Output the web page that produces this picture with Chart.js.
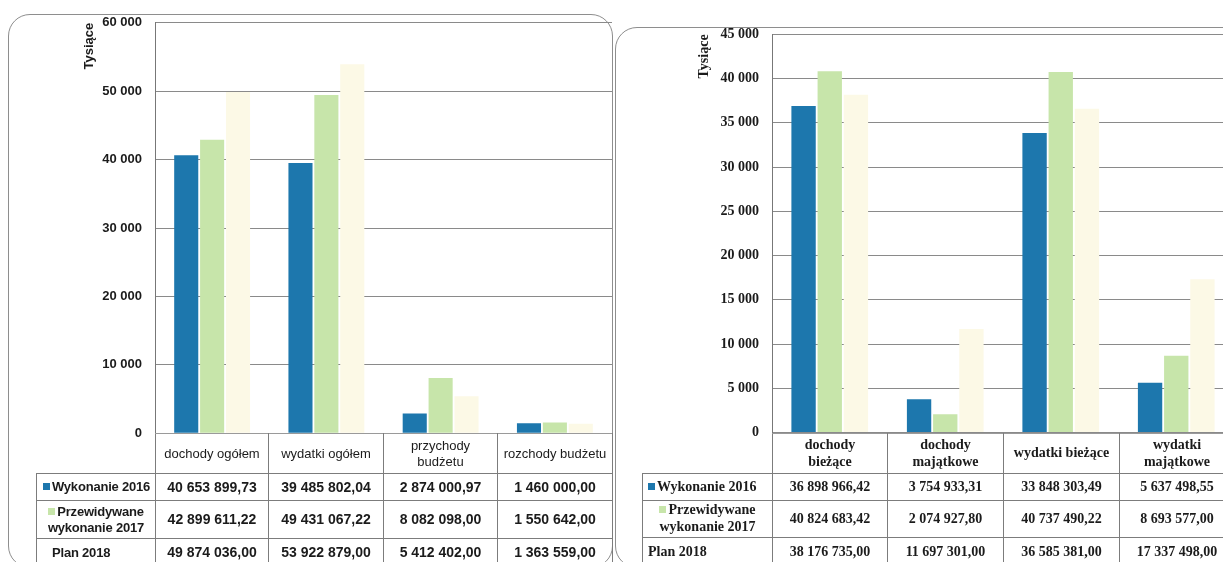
<!DOCTYPE html>
<html>
<head>
<meta charset="utf-8">
<script src="https://cdn.jsdelivr.net/npm/chart.js@4.4.1/dist/chart.umd.min.js"></script>
<style>
    body { margin: 0; width: 1223px; height: 562px; overflow: hidden; background: #fff; position: relative; }
    .panel { position: absolute; border: 1px solid #8e8e8e; border-radius: 22px; }
    .chart-box { position: absolute; }
    table.data { position: absolute; border-collapse: collapse; table-layout: fixed; color: #1b1b1b; z-index: 2; }
    table.data td { border: 1px solid #7c7c7c; text-align: center; padding: 0; line-height: 1.18; overflow: hidden; white-space: nowrap; }
    table.data td.empty { border: none; }
    table.data td.head { border-top: 1px solid #9a9a9a; }
    .sw { display: inline-block; width: 7px; height: 7px; margin-right: 2px; vertical-align: 1px; }
    #table-left { left: 36px; top: 433px; width: 576px; font-family: "Liberation Sans Narrow", "Arial Narrow", "Liberation Sans", sans-serif; font-size: 13px; }
    #table-left td.val { font-weight: bold; font-size: 14px; }
    #table-left td.lab { font-weight: bold; letter-spacing: -0.2px; }
    #table-right { left: 642px; top: 433px; width: 592px; font-family: "Liberation Serif", "Times New Roman", serif; font-size: 14px; font-weight: bold; }
</style>
</head>
<body>

<div class="panel" style="left:8px; top:14px; width:603px; height:552px;"></div>
<div class="panel" style="left:615px; top:27px; width:640px; height:539px;"></div>

<div class="chart-box" style="left:80px; top:2px; width:532px; height:452px;">
    <canvas id="chart-left"></canvas>
</div>
<div class="chart-box" style="left:692px; top:13px; width:542px; height:441px;">
    <canvas id="chart-right"></canvas>
</div>

<table class="data" id="table-left"></table>
<table class="data" id="table-right"></table>

<script>
// kolory serii
var colorBlue = "#1d77ad";
var colorGreen = "#c7e5aa";
var colorCream = "#fcf9e6";

var seriesNames = [["Wykonanie 2016"], ["Przewidywane", "wykonanie 2017"], ["Plan 2018"]];

// wykres lewy (zł)
var leftCategories = [["dochody ogółem"], ["wydatki ogółem"], ["przychody", "budżetu"], ["rozchody budżetu"]];
var leftWykonanie2016 = [40653899.73, 39485802.04, 2874000.97, 1460000.00];
var leftPrzewidywane2017 = [42899611.22, 49431067.22, 8082098.00, 1550642.00];
var leftPlan2018 = [49874036.00, 53922879.00, 5412402.00, 1363559.00];
var leftTicks = { max: 60000, step: 10000 };

// wykres prawy (zł)
var rightCategories = [["dochody", "bieżące"], ["dochody", "majątkowe"], ["wydatki bieżące"], ["wydatki", "majątkowe"]];
var rightWykonanie2016 = [36898966.42, 3754933.31, 33848303.49, 5637498.55];
var rightPrzewidywane2017 = [40824683.42, 2074927.80, 40737490.22, 8693577.00];
var rightPlan2018 = [38176735.00, 11697301.00, 36585381.00, 17337498.00];
var rightTicks = { max: 45000, step: 5000 };

function formatAmount(value) {
    var parts = value.toFixed(2).split(".");
    return parts[0].replace(/\B(?=(\d{3})+(?!\d))/g, " ") + "," + parts[1];
}

function formatTick(value) {
    return String(value).replace(/\B(?=(\d{3})+(?!\d))/g, " ");
}

function toThousands(values) {
    return values.map(function (v) { return v / 1000; });
}

function createChart(canvasId, categories, series, ticks, fontFamily, fontSize, axisWidth, titlePad) {

    new Chart(
        document.getElementById(canvasId),
        {
            type: "bar",
            data: {
                labels: categories,
                datasets: [
                    { label: seriesNames[0].join(" "), data: toThousands(series[0]), backgroundColor: colorBlue },
                    { label: seriesNames[1].join(" "), data: toThousands(series[1]), backgroundColor: colorGreen },
                    { label: seriesNames[2].join(" "), data: toThousands(series[2]), backgroundColor: colorCream }
                ]
            },
            options: {
                responsive: true,
                maintainAspectRatio: false,
                animation: false,
                datasets: {
                    bar: {
                        categoryPercentage: 0.68,
                        barPercentage: 0.93
                    }
                },
                layout: {
                    padding: 0
                },
                scales: {
                    x: {
                        display: false
                    },
                    y: {
                        min: 0,
                        max: ticks.max,
                        afterFit: function (scale) { scale.width = axisWidth; },
                        ticks: {
                            stepSize: ticks.step,
                            padding: 13,
                            color: "#1b1b1b",
                            font: { family: fontFamily, size: fontSize, weight: "bold" },
                            callback: function (value) { return formatTick(value); }
                        },
                        grid: {
                            color: "#8a8a8a",
                            lineWidth: 1,
                            drawTicks: false
                        },
                        border: {
                            display: true,
                            color: "#777777"
                        },
                        title: {
                            display: true,
                            text: "Tysiące",
                            align: "end",
                            color: "#1b1b1b",
                            padding: { top: titlePad, bottom: 0 },
                            font: { family: fontFamily, size: fontSize, weight: "bold" }
                        }
                    }
                },
                plugins: {
                    legend: { display: false },
                    tooltip: { enabled: false }
                }
            }
        }
    );

}

function renderTable(tableId, categories, series, colWidths, rowHeights, labelPads) {

    var table = document.getElementById(tableId);
    var html = "<colgroup>";
    for (var w of colWidths) {
        html += "<col style='width:" + w + "px'>";
    }
    html += "</colgroup>";

    html += "<tr style='height:" + rowHeights[0] + "px'><td class='empty'></td>";
    for (var cat of categories) {
        html += "<td class='head'>" + cat.join("<br>") + "</td>";
    }
    html += "</tr>";

    var swatches = [colorBlue, colorGreen, null];
    for (var i = 0; i < series.length; i++) {
        html += "<tr style='height:" + rowHeights[i + 1] + "px'>";
        var label = seriesNames[i];
        var swatch = swatches[i] ? "<span class='sw' style='background:" + swatches[i] + "'></span>" : "";
        if (label.length > 1) {
            html += "<td class='lab'>" + swatch + label.join("<br>") + "</td>";
        } else {
            html += "<td class='lab' style='text-align:left; padding-left:" + labelPads[i] + "px'>" + swatch + label[0] + "</td>";
        }
        for (var v of series[i]) {
            html += "<td class='val'>" + formatAmount(v) + "</td>";
        }
        html += "</tr>";
    }

    table.innerHTML = html;

}

createChart("chart-left", leftCategories, [leftWykonanie2016, leftPrzewidywane2017, leftPlan2018], leftTicks,
    "'Liberation Sans Narrow', 'Arial Narrow', 'Liberation Sans', sans-serif", 13, 75, 2);
createChart("chart-right", rightCategories, [rightWykonanie2016, rightPrzewidywane2017, rightPlan2018], rightTicks,
    "'Liberation Serif', 'Times New Roman', serif", 14, 80, 4);

renderTable("table-left", leftCategories, [leftWykonanie2016, leftPrzewidywane2017, leftPlan2018],
    [119, 113, 115, 114, 115], [40, 27, 38, 28], [6, 0, 15]);
renderTable("table-right", rightCategories, [rightWykonanie2016, rightPrzewidywane2017, rightPlan2018],
    [130, 115, 116, 116, 115], [40, 27, 37, 29], [5, 0, 5]);
</script>
</body>
</html>
